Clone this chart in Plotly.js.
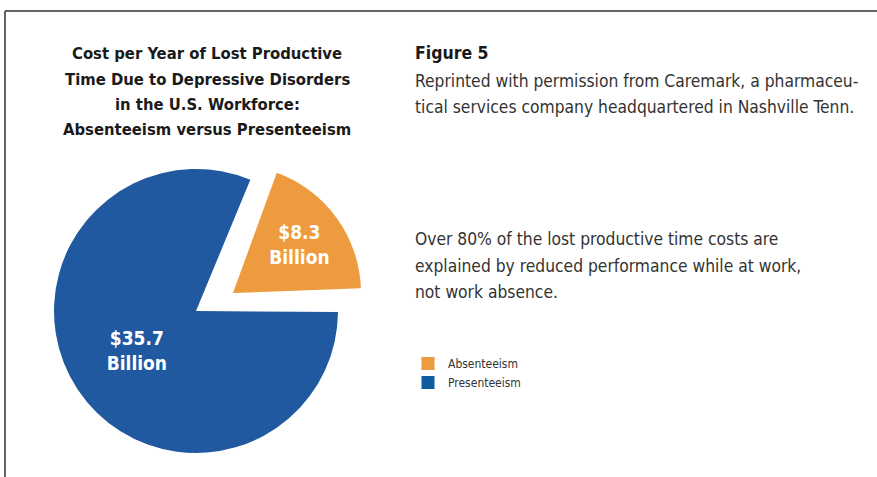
<!DOCTYPE html>
<html>
<head>
<meta charset="utf-8">
<script src="https://cdn.plot.ly/plotly-3.0.1.min.js"></script>
<style>html,body{margin:0;padding:0;background:#fff;}#chart{width:877px;height:477px;}</style>
</head>
<body>
<div id="chart"></div>
<script>
// ---- data ----
const categories = ["Absenteeism", "Presenteeism"];
const costBillions = [8.3, 35.7];
const sliceColors = ["#ee9b3f", "#2159a0"];
const legendColors = ["#ee9b3f", "#0d5c9e"];
const titleLines = ["Cost per Year of Lost Productive", "Time Due to Depressive Disorders", "in the U.S. Workforce:", "Absenteeism versus Presenteeism"];
const figureHeading = "Figure 5";
const noteLines = ["Reprinted with permission from Caremark, a pharmaceu-", "tical services company headquartered in Nashville Tenn."];
const findingLines = ["Over 80% of the lost productive time costs are", "explained by reduced performance while at work,", "not work absence."];

const W = 877, H = 477;
const px = x => x / W;
const py = y => 1 - y / H;
const FONT = "DejaVu Sans Condensed, Liberation Sans Narrow, Arial Narrow, sans-serif";
const TRANSP = "rgba(0,0,0,0)";
const labelText = costBillions.map(v => "$" + v + "<br>Billion");

const common = {
  type: "pie",
  labels: categories,
  values: costBillions,
  sort: false,
  direction: "clockwise",
  textinfo: "text",
  textposition: "inside",
  insidetextorientation: "horizontal",
  hoverinfo: "label+value",
  showlegend: false,
  textfont: {family: FONT, size: 19, color: "#ffffff", weight: "bold"}
};

// large (Presenteeism) slice
const bluePie = Object.assign({}, common, {
  rotation: 22.5,
  text: labelText.map((t, i) => i === 1 ? t : ""),
  marker: {colors: sliceColors.map((c, i) => i === 1 ? c : TRANSP), line: {width: 0}},
  domain: {x: [px(54), px(338)], y: [py(453), py(169)]}
});
// exploded (Absenteeism) slice
const orangePie = Object.assign({}, common, {
  rotation: 20,
  text: labelText.map((t, i) => i === 0 ? t : ""),
  marker: {colors: sliceColors.map((c, i) => i === 0 ? c : TRANSP), line: {width: 0}},
  domain: {x: [px(105), px(361)], y: [py(421), py(165)]}
});

// legend entries
const legendTraces = categories.map((c, i) => ({
  type: "scatter", mode: "markers", x: [null], y: [null], name: c,
  marker: {symbol: "square", size: 13, color: legendColors[i]},
  hoverinfo: "skip", showlegend: true
}));

function line(text, x, y, anchor, size, color, bold) {
  return {text: bold ? "<b>" + text + "</b>" : text, xref: "paper", yref: "paper",
    x: px(x), y: py(y), xanchor: anchor, yanchor: "middle", showarrow: false,
    font: {family: FONT, size: size, color: color}};
}
const annotations = [];
titleLines.forEach((t, i) => annotations.push(line(t, 207, 54 + i * 25.2, "center", 16.5, "#1a1a1a", true)));
annotations.push(line(figureHeading, 413, 53, "left", 17.5, "#1a1a1a", true));
noteLines.forEach((t, i) => annotations.push(line(t, 413, 81 + i * 26, "left", 17.3, "#333333", false)));
findingLines.forEach((t, i) => annotations.push(line(t, 413, 239 + i * 26.5, "left", 17.3, "#333333", false)));

const layout = {
  width: W, height: H,
  margin: {l: 0, r: 0, t: 0, b: 0},
  paper_bgcolor: "#ffffff", plot_bgcolor: "rgba(0,0,0,0)",
  xaxis: {visible: false}, yaxis: {visible: false},
  showlegend: true,
  legend: {
    x: px(408), y: py(349), xanchor: "left", yanchor: "top",
    font: {family: FONT, size: 12, color: "#333333"},
    bgcolor: "rgba(0,0,0,0)", tracegroupgap: 0
  },
  shapes: [
    {type: "line", xref: "paper", yref: "paper", x0: px(5), x1: 1, y0: py(11), y1: py(11), line: {color: "#333", width: 1.5}},
    {type: "line", xref: "paper", yref: "paper", x0: px(5), x1: px(5), y0: py(11), y1: 0, line: {color: "#333", width: 1.5}}
  ],
  annotations: annotations
};

Plotly.newPlot("chart", [bluePie, orangePie].concat(legendTraces), layout, {displayModeBar: false, staticPlot: true});
</script>
</body>
</html>
